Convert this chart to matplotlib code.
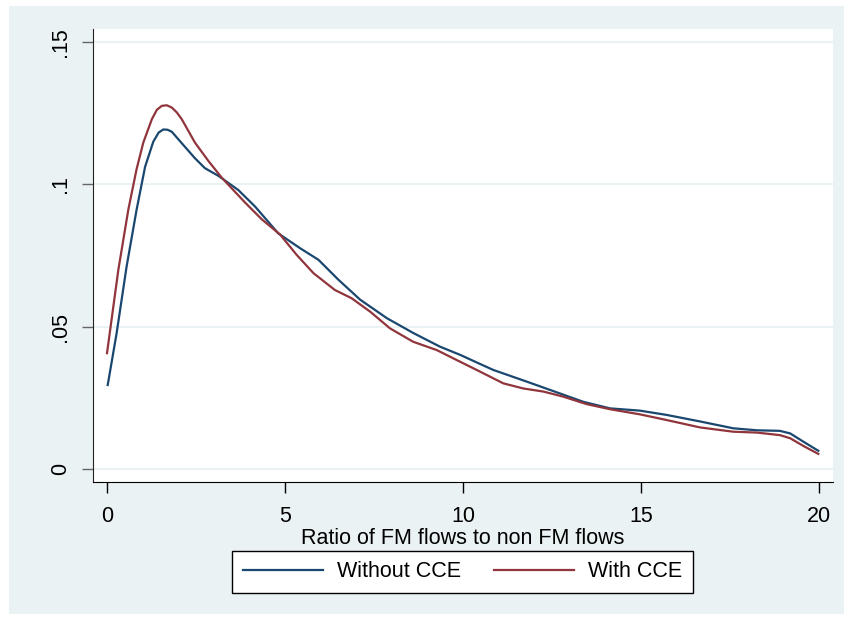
import matplotlib
matplotlib.use('Agg')
import matplotlib.pyplot as plt
from matplotlib.patches import Rectangle

# kernel density estimates
x_without = [0.02, 0.27, 0.55, 0.83, 1.07, 1.30, 1.45, 1.58, 1.70, 1.82, 2.14, 2.47,
             2.75, 3.13, 3.69, 4.16, 4.81, 5.42, 5.94, 6.50, 7.11, 7.86, 8.60, 9.35,
             9.92, 10.48, 10.85, 11.79, 12.44, 13.38, 14.13, 14.97, 15.72, 16.66,
             17.59, 18.25, 18.90, 19.19, 19.56, 19.98]
y_without = [0.0295, 0.0477, 0.0711, 0.0910, 0.1062, 0.1150, 0.1182, 0.1193, 0.1192,
             0.1185, 0.1139, 0.1092, 0.1057, 0.1030, 0.0980, 0.0922, 0.0828, 0.0776,
             0.0735, 0.0665, 0.0595, 0.0530, 0.0478, 0.0430, 0.0401, 0.0369, 0.0348,
             0.0307, 0.0278, 0.0236, 0.0213, 0.0205, 0.0190, 0.0167, 0.0143, 0.0136,
             0.0134, 0.0125, 0.0096, 0.0064]

x_with = [0.00, 0.32, 0.60, 0.83, 1.02, 1.26, 1.40, 1.54, 1.68, 1.82, 1.96, 2.10,
          2.47, 2.85, 3.22, 3.88, 4.35, 4.86, 5.33, 5.80, 6.40, 6.87, 7.39, 7.95,
          8.60, 9.26, 9.82, 10.48, 11.13, 11.69, 12.26, 12.82, 13.47, 14.13, 14.97,
          15.72, 16.66, 17.59, 18.25, 18.90, 19.19, 19.56, 19.98]
y_with = [0.0407, 0.0701, 0.0912, 0.1053, 0.1147, 0.1229, 0.1262, 0.1276, 0.1278,
          0.1270, 0.1253, 0.1229, 0.1147, 0.1082, 0.1024, 0.0936, 0.0877, 0.0824,
          0.0752, 0.0688, 0.0629, 0.0600, 0.0553, 0.0494, 0.0447, 0.0418, 0.0383,
          0.0342, 0.0301, 0.0283, 0.0272, 0.0254, 0.0228, 0.0210, 0.0192, 0.0172,
          0.0146, 0.0131, 0.0128, 0.0119, 0.0108, 0.0081, 0.0053]

x_ticks = [0, 5, 10, 15, 20]
y_ticks = [0, 0.05, 0.1, 0.15]
y_ticklabels = ['0', '.05', '.1', '.15']

BG = '#EAF2F3'
NAVY = '#1A476F'
MAROON = '#90353B'
FS = 15.5

plt.rcParams['font.family'] = ['Liberation Sans', 'DejaVu Sans']

fig = plt.figure(figsize=(8.44, 6.17), dpi=100, facecolor='white')
fig.patches.append(Rectangle((9 / 844, 3 / 617), 1 - 9 / 844, 608 / 617,
                             transform=fig.transFigure, facecolor=BG,
                             edgecolor='none', zorder=-1))

ax = fig.add_axes([0.1102, 0.2188, 0.8768, 0.7342])
ax.set_facecolor('white')

ax.plot(x_without, y_without, color=NAVY, lw=1.6, label='Without CCE', zorder=3)
ax.plot(x_with, y_with, color=MAROON, lw=1.6, label='With CCE', zorder=3)

ax.set_xlim(-0.393, 20.393)
ax.set_ylim(-0.00457, 0.1546)

ax.set_xticks(x_ticks)
ax.set_xticklabels([str(t) for t in x_ticks], fontsize=FS)
ax.set_yticks(y_ticks)
ax.set_yticklabels(y_ticklabels, fontsize=FS, rotation=90, va='center')

ax.yaxis.grid(True, color=BG, lw=1.4)
ax.set_axisbelow(True)

for side in ['top', 'right']:
    ax.spines[side].set_visible(False)
ax.spines['left'].set_color('#222222')
ax.spines['bottom'].set_color('black')
ax.tick_params(axis='x', length=8, width=1, color='black', pad=9)
ax.tick_params(axis='y', length=8, width=1, color='#666666', pad=8)

ax.set_xlabel('Ratio of FM flows to non FM flows', fontsize=FS, labelpad=1)

leg = fig.legend(loc='center', bbox_to_anchor=(0.548, 0.073), ncol=2,
                 fontsize=FS, handlelength=3.7, handletextpad=0.65,
                 columnspacing=1.55, borderpad=0.5, fancybox=False,
                 framealpha=1, edgecolor='black')
leg.get_frame().set_linewidth(1.0)
for line in leg.get_lines():
    line.set_linewidth(1.6)

fig.savefig('out.png', dpi=100, facecolor='white')
